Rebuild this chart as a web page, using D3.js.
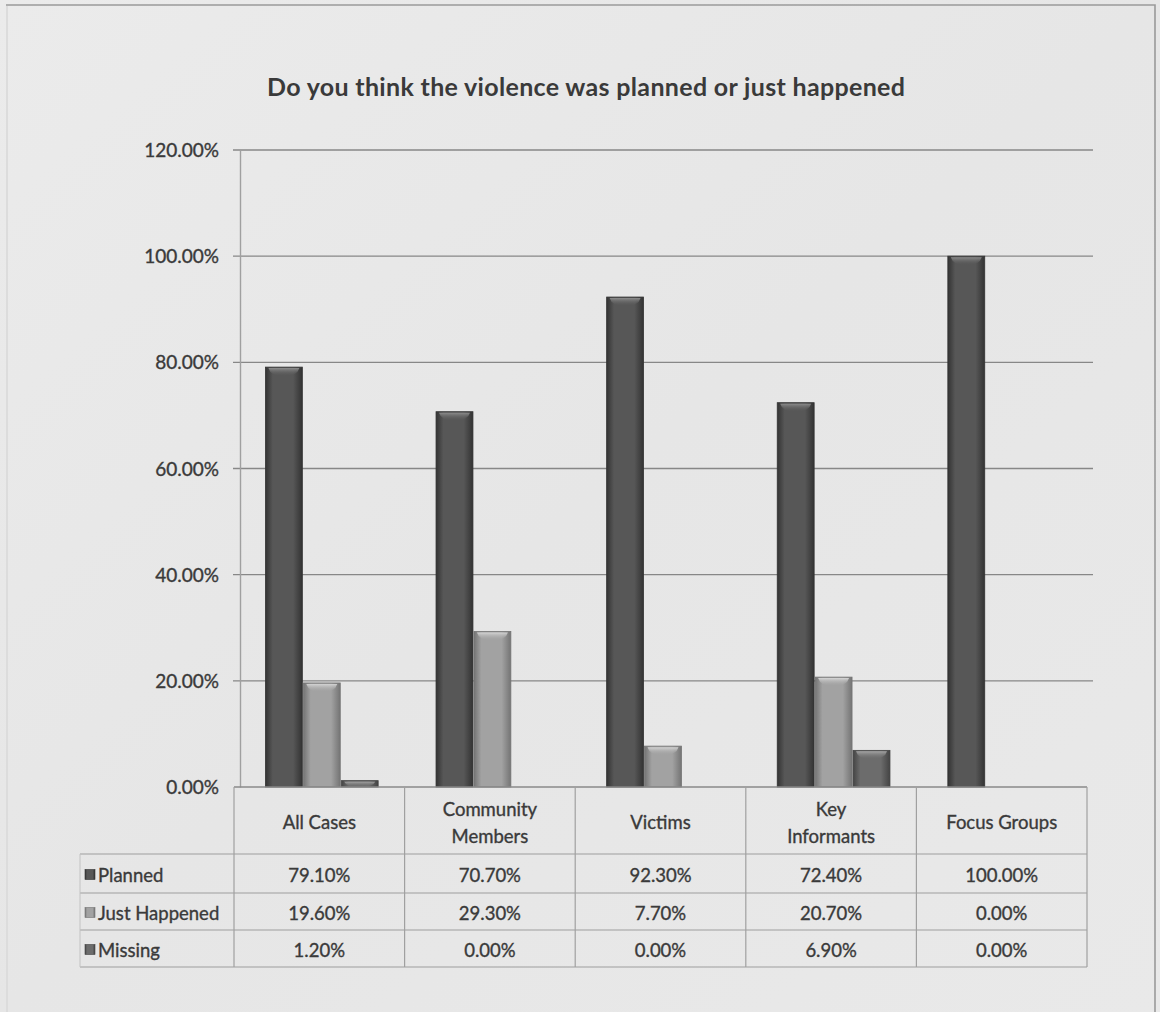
<!DOCTYPE html>
<html>
<head>
<meta charset="utf-8">
<script src="https://cdn.jsdelivr.net/npm/d3@7"></script>
<style>
  html, body { margin: 0; padding: 0; background: #e9e9e9; }
  svg { display: block; }
  text { font-family: Lato, "Open Sans", sans-serif; fill: #3a3a3a; }
  .heavy { stroke: #3a3a3a; stroke-width: 0.35px; }
</style>
</head>
<body>
<svg id="chart" width="1160" height="1012"></svg>
<script>
// Survey responses: was the violence planned or did it just happen
const categories = ["All Cases", "Community Members", "Victims", "Key Informants", "Focus Groups"];
const categoryLines = [["All Cases"], ["Community", "Members"], ["Victims"], ["Key", "Informants"], ["Focus Groups"]];
const seriesNames = ["Planned", "Just Happened", "Missing"];
const planned = [0.791, 0.707, 0.923, 0.724, 1.0];
const justHappened = [0.196, 0.293, 0.077, 0.207, 0.0];
const missing = [0.012, 0.0, 0.0, 0.069, 0.0];
const yTicks = [0, 0.2, 0.4, 0.6, 0.8, 1.0, 1.2];
const title = "Do you think the violence was planned or just happened";

const seriesValues = [planned, justHappened, missing];
const fmt = d3.format(".2%");

const svg = d3.select("#chart");
const W = 1160, H = 1012;

// page background and frame
const defs = svg.append("defs");
const pageGrad = defs.append("linearGradient").attr("id", "page").attr("x1", 0).attr("y1", 0).attr("x2", 1).attr("y2", 1);
pageGrad.append("stop").attr("offset", 0).attr("stop-color", "#ebebeb");
pageGrad.append("stop").attr("offset", 0.5).attr("stop-color", "#e6e6e6");
pageGrad.append("stop").attr("offset", 1).attr("stop-color", "#e9e9e9");
svg.append("rect").attr("width", W).attr("height", H).attr("fill", "url(#page)");
svg.append("path")
  .attr("d", "M6,5 H1155 V1012")
  .attr("fill", "none").attr("stroke", "#9a9a9a").attr("stroke-width", 1.6);
svg.append("line").attr("x1", 7).attr("x2", 7).attr("y1", 6).attr("y2", 1012)
  .attr("stroke", "#dcdcdc").attr("stroke-width", 2);

// scales
const plotLeft = 234, plotRight = 1087, plotTop = 150, plotBottom = 787;
const axisX = 240;
const x0 = d3.scaleBand().domain(categories).range([plotLeft, plotRight]).paddingInner(0).paddingOuter(0);
const x1 = d3.scaleBand().domain(seriesNames).range([0, x0.bandwidth()]).paddingInner(0).paddingOuter(0.75);
const y = d3.scaleLinear().domain([0, 1.2]).range([plotBottom, plotTop]);
const barShift = 3;

// gradients for the bar fills
const palette = {
  "Planned":       { edge: "#333333", mid: "#575757", cap: "#8c8c8c" },
  "Just Happened": { edge: "#747474", mid: "#a2a2a2", cap: "#d4d4d4" },
  "Missing":       { edge: "#444444", mid: "#6c6c6c", cap: "#a4a4a4" }
};
const gid = s => "g" + s.replace(/\s+/g, "");
seriesNames.forEach(s => {
  const c = palette[s];
  const g = defs.append("linearGradient").attr("id", gid(s)).attr("x1", 0).attr("x2", 1).attr("y1", 0).attr("y2", 0);
  g.append("stop").attr("offset", 0).attr("stop-color", c.edge);
  g.append("stop").attr("offset", 0.2).attr("stop-color", c.mid);
  g.append("stop").attr("offset", 0.75).attr("stop-color", c.mid);
  g.append("stop").attr("offset", 1).attr("stop-color", c.edge);
  const v = defs.append("linearGradient").attr("id", gid(s) + "cap").attr("x1", 0).attr("x2", 0).attr("y1", 0).attr("y2", 1);
  v.append("stop").attr("offset", 0).attr("stop-color", c.cap);
  v.append("stop").attr("offset", 1).attr("stop-color", c.mid).attr("stop-opacity", 0);
});

// gridlines
svg.append("g").selectAll("line").data(yTicks.filter(t => t > 0)).join("line")
  .attr("x1", plotLeft - 1).attr("x2", plotRight + 6)
  .attr("y1", d => y(d)).attr("y2", d => y(d))
  .attr("stroke", "#878787").attr("stroke-width", 1.4);

// value axis
const yAxis = svg.append("g").attr("transform", `translate(${axisX},0)`)
  .call(d3.axisLeft(y).tickValues(yTicks).tickFormat(d3.format(".2%")).tickSize(0).tickPadding(21));
yAxis.select(".domain").attr("stroke", "#a0a0a0").attr("stroke-width", 1.4);
yAxis.selectAll("text").attr("class", "heavy").style("font-size", "19px").style("font-family", "Lato, sans-serif")
  .attr("fill", "#3c3c3c").attr("dy", "0.35em");

// bars
const groups = svg.append("g").selectAll("g").data(categories).join("g")
  .attr("transform", d => `translate(${x0(d) + barShift},0)`);
groups.each(function(cat, ci) {
  const g = d3.select(this);
  seriesNames.forEach((s, si) => {
    const v = seriesValues[si][ci];
    if (v <= 0) return;
    const bx = x1(s), bw = x1.bandwidth() - 1;
    const top = y(v), h = y(0) - y(v);
    g.append("rect").attr("x", bx).attr("y", top).attr("width", bw).attr("height", h)
      .attr("fill", `url(#${gid(s)})`).attr("stroke", palette[s].edge).attr("stroke-width", 0.8);
    const capH = Math.min(9, h);
    g.append("path")
      .attr("d", `M${bx + 3},${top + 1} H${bx + bw - 3} Q${bx + bw - 5},${top + capH} ${bx + bw / 2},${top + capH} Q${bx + 5},${top + capH} ${bx + 3},${top + 1} Z`)
      .attr("fill", `url(#${gid(s)}cap)`);
  });
});

// data table
const rowEdges = [787, 854, 893, 930, 967];
const tableLeft = 80;
const tg = svg.append("g");
rowEdges.forEach((ry, i) => {
  tg.append("line")
    .attr("x1", i === 0 ? plotLeft : tableLeft).attr("x2", plotRight)
    .attr("y1", ry).attr("y2", ry)
    .attr("stroke", i === 0 ? "#8a8a8a" : "#9e9e9e").attr("stroke-width", i === 0 ? 1.6 : 1.2);
});
const colEdges = categories.map(c => x0(c)).concat([plotRight]);
colEdges.forEach(cx => {
  tg.append("line").attr("x1", cx).attr("x2", cx).attr("y1", rowEdges[0]).attr("y2", rowEdges[4])
    .attr("stroke", "#a0a0a0").attr("stroke-width", 1.2);
});
tg.append("line").attr("x1", tableLeft).attr("x2", tableLeft).attr("y1", rowEdges[1]).attr("y2", rowEdges[4])
  .attr("stroke", "#c2c2c2").attr("stroke-width", 1);

// category headers
categoryLines.forEach((lines, ci) => {
  const cx = x0(categories[ci]) + x0.bandwidth() / 2;
  const cy = 823;
  const t = tg.append("text").attr("class", "heavy").attr("x", cx).attr("text-anchor", "middle")
    .style("font-size", "18.5px");
  lines.forEach((ln, li) => {
    t.append("tspan").attr("x", cx)
      .attr("y", cy + (li - (lines.length - 1) / 2) * 27)
      .attr("dy", "0.35em").text(ln);
  });
});

// series rows with legend keys
seriesNames.forEach((s, si) => {
  const cy = (rowEdges[si + 1] + rowEdges[si + 2]) / 2 + 2;
  tg.append("rect").attr("x", tableLeft + 5).attr("y", cy - 6).attr("width", 10).attr("height", 10)
    .attr("fill", `url(#${gid(s)})`).attr("stroke", palette[s].edge).attr("stroke-width", 0.6);
  tg.append("text").attr("class", "heavy").attr("x", tableLeft + 18).attr("y", cy).attr("dy", "0.35em")
    .style("font-size", "18.5px").text(s);
  categories.forEach((c, ci) => {
    tg.append("text").attr("class", "heavy").attr("x", x0(c) + x0.bandwidth() / 2).attr("y", cy).attr("dy", "0.35em")
      .attr("text-anchor", "middle").style("font-size", "18.5px")
      .text(fmt(seriesValues[si][ci]));
  });
});

// title
svg.append("text").attr("x", 586).attr("y", 87).attr("text-anchor", "middle").attr("dy", "0.35em")
  .attr("textLength", 638).attr("lengthAdjust", "spacing")
  .style("font-size", "25px").style("font-weight", "bold").attr("fill", "#333").text(title);
</script>
</body>
</html>
